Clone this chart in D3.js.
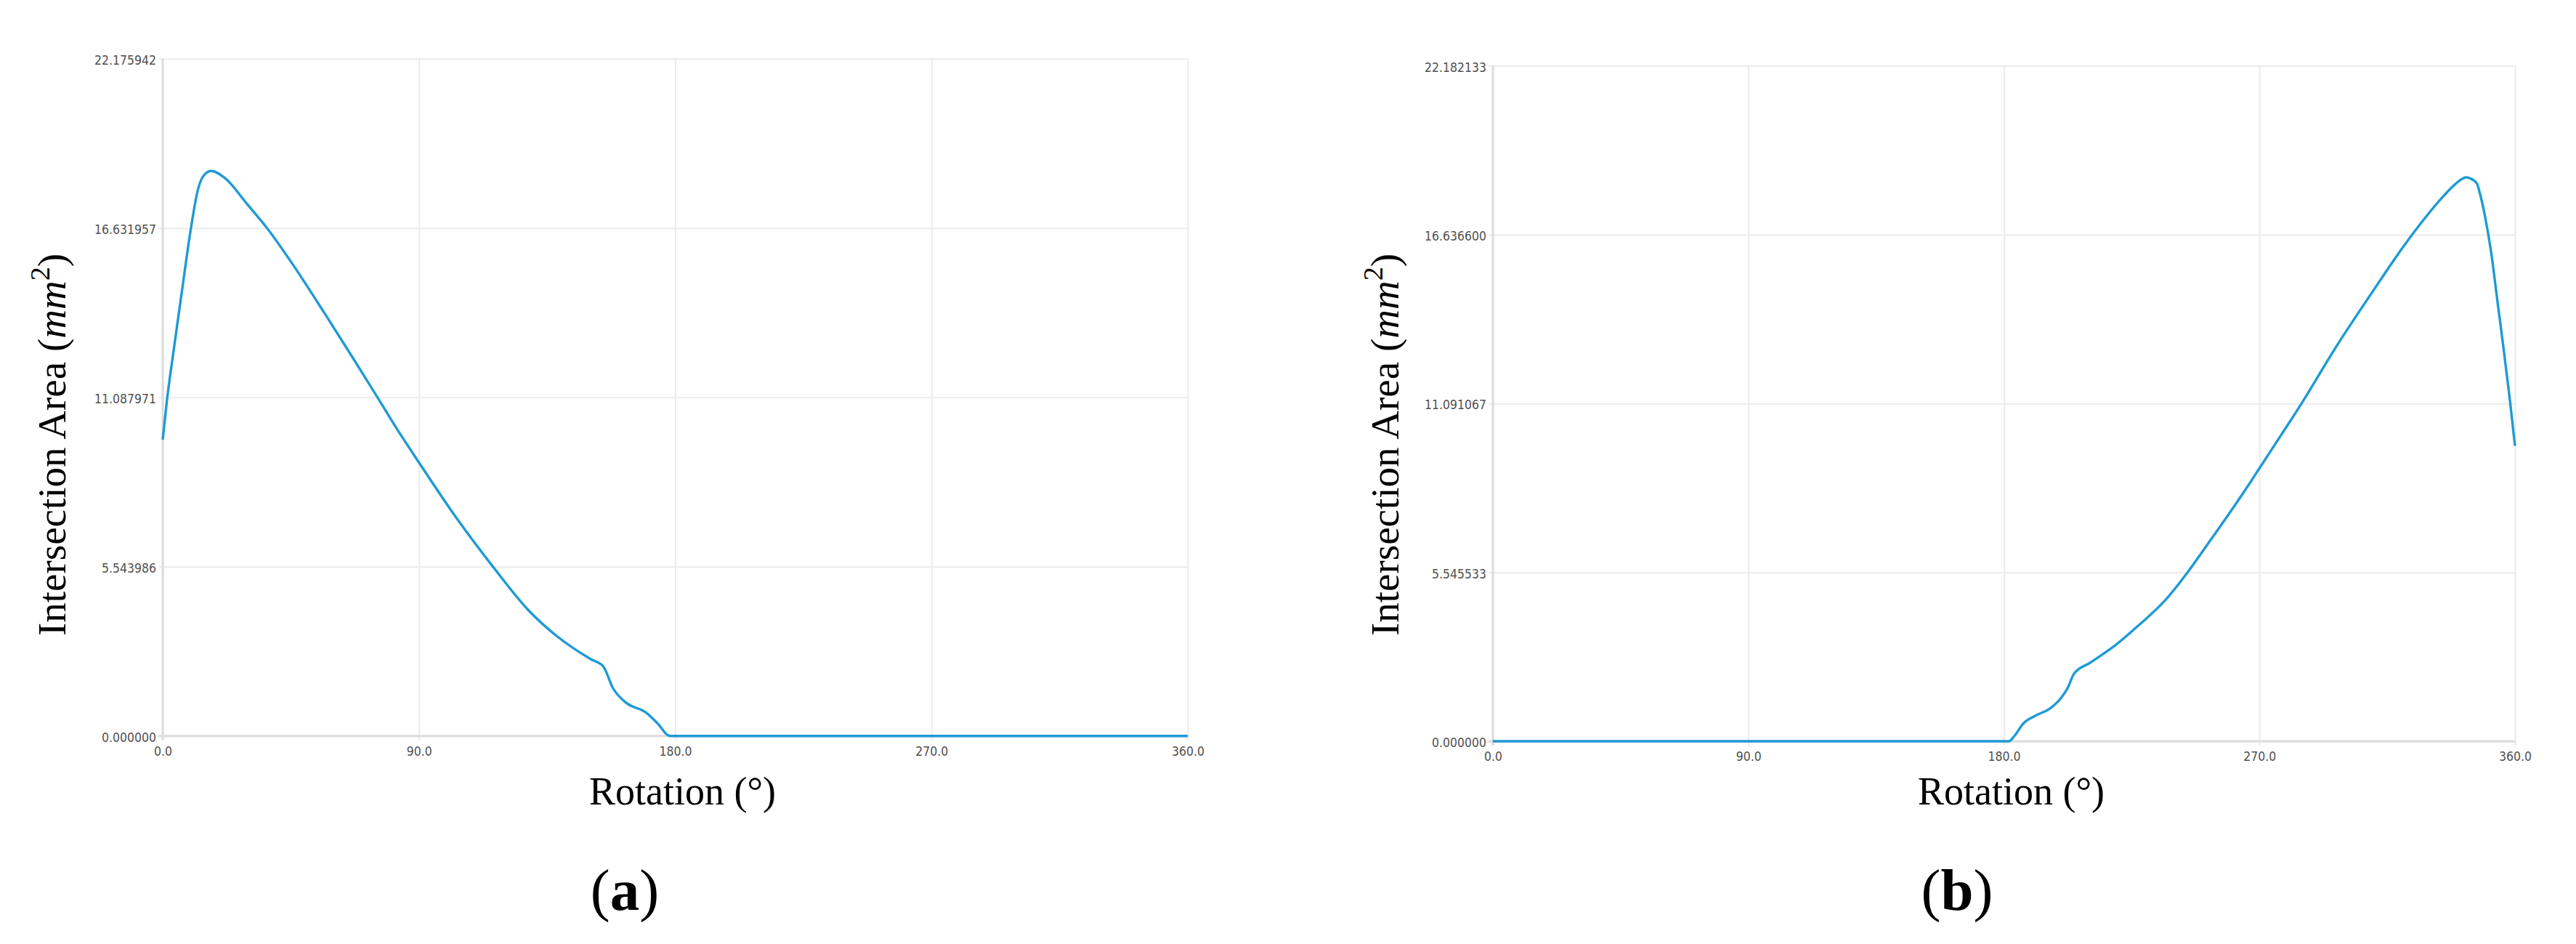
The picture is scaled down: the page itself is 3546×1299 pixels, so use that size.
<!DOCTYPE html>
<html>
<head>
<meta charset="utf-8">
<script src="https://cdn.jsdelivr.net/npm/d3@7/dist/d3.min.js"></script>
<style>
  body { margin: 0; background: #fff; }
  .tick text { font-family: "DejaVu Sans Condensed", "DejaVu Sans", sans-serif; font-stretch: condensed; font-size: 17.5px; fill: #505050; }
  .title { font-family: "Liberation Serif", "Times New Roman", serif; fill: #000; }
</style>
</head>
<body>
<svg id="canvas_svg" width="3546" height="1299"></svg>
<script>
// rotation in degrees, intersection area in mm^2
var rotationA = [0, 1.5, 3.8, 6.8, 9.7, 12.4, 14.4, 17.0, 21.8, 29.5, 36.7, 45.6, 56.7, 66.9, 75.4, 82.2,
                 90.3, 102.3, 116.0, 128.5, 138.8, 150.2, 154.7, 158.1, 162.7, 169.5, 174.1, 177.5, 178.5, 270, 360];
var areaA = [9.70, 11.00, 12.60, 14.60, 16.50, 17.90, 18.35, 18.50, 18.27, 17.43, 16.62, 15.45, 13.86, 12.36, 11.09, 10.06,
             8.91, 7.25, 5.54, 4.11, 3.24, 2.52, 2.28, 1.57, 1.09, 0.78, 0.38, 0.02, 0, 0, 0];

var rotationB = [0, 90, 181.8, 183.5, 186.9, 190.9, 196.6, 200.1, 202.4, 204.7, 210.4, 219.5, 227.5, 236.7, 244.7, 251.5,
                 259.5, 266.9, 270.1, 277.8, 284.8, 296.5, 308.3, 323.0, 334.7, 338.9, 342.8, 344.0, 346.5, 347.7, 349.4, 351.6,
                 353.8, 356.0, 358.2, 360];
var areaB = [0, 0, 0, 0.15, 0.59, 0.83, 1.10, 1.42, 1.74, 2.22, 2.58, 3.17, 3.81, 4.62, 5.55, 6.44,
             7.50, 8.52, 8.98, 10.08, 11.09, 12.88, 14.55, 16.54, 17.89, 18.29, 18.52, 18.49, 18.33, 17.97, 17.26, 16.06,
             14.47, 12.88, 11.21, 9.70];

var yTicksA = [0, 5.543986, 11.087971, 16.631957, 22.175942];
var yTicksB = [0, 5.545533, 11.091067, 16.636600, 22.182133];
var xTicks = [0, 90, 180, 270, 360];
var labels = ["a", "b"];

var svg = d3.select("#canvas_svg");

var panels = [
  { left: 224, right: 1635, top: 80.7, bottom: 1012.7, yTitleX: 90, rot: rotationA, area: areaA, yTicks: yTicksA, label: labels[0], labelX: 860 },
  { left: 2055, right: 3462, top: 90.5, bottom: 1020, yTitleX: 1925, rot: rotationB, area: areaB, yTicks: yTicksB, label: labels[1], labelX: 2694 }
];

function drawPanel(p) {
  var x = d3.scaleLinear().domain([0, 360]).range([p.left, p.right]);
  var y = d3.scaleLinear().domain([0, p.yTicks[p.yTicks.length - 1]]).range([p.bottom, p.top]);

  // horizontal grid + y labels
  var gy = svg.append("g")
      .attr("transform", "translate(" + p.left + ",0)")
      .call(d3.axisLeft(y).tickValues(p.yTicks).tickFormat(d3.format(".6f"))
            .tickSize(-(p.right - p.left)).tickPadding(9));
  gy.select(".domain").remove();
  gy.selectAll(".tick line").attr("x1", -6).attr("stroke", "#ebebeb").attr("stroke-width", 2);
  gy.selectAll(".tick text").attr("dy", "0.43em");

  // vertical grid + x labels
  var gx = svg.append("g")
      .attr("transform", "translate(0," + p.bottom + ")")
      .call(d3.axisBottom(x).tickValues(xTicks).tickFormat(d3.format(".1f"))
            .tickSize(-(p.bottom - p.top)).tickPadding(14.6));
  gx.select(".domain").remove();
  gx.selectAll(".tick line").attr("y1", 6).attr("stroke", "#ebebeb").attr("stroke-width", 2);
  gx.attr("font-family", null).attr("font-size", null);
  gy.attr("font-family", null).attr("font-size", null);

  // axis lines
  svg.append("line").attr("x1", p.left).attr("x2", p.left).attr("y1", p.top).attr("y2", p.bottom + 6)
     .attr("stroke", "#dcdcdc").attr("stroke-width", 3);
  svg.append("line").attr("x1", p.left - 6).attr("x2", p.right).attr("y1", p.bottom).attr("y2", p.bottom)
     .attr("stroke", "#dcdcdc").attr("stroke-width", 3);

  var line = d3.line()
      .x(function(d) { return x(d[0]); })
      .y(function(d) { return y(d[1]); })
      .curve(d3.curveMonotoneX);

  svg.append("path")
     .datum(d3.zip(p.rot, p.area))
     .attr("d", line)
     .attr("fill", "none")
     .attr("stroke", "#1e9ad6")
     .attr("stroke-width", 3.4)
     .attr("stroke-linejoin", "round");

  // y title
  var yt = svg.append("text").attr("class", "title")
      .attr("transform", "translate(" + p.yTitleX + ",612) rotate(-90)")
      .attr("text-anchor", "middle")
      .attr("font-size", 55);
  yt.append("tspan").text("Intersection Area (");
  yt.append("tspan").attr("font-style", "italic").text("mm");
  yt.append("tspan").attr("font-size", 38).attr("dy", -22).text("2");
  yt.append("tspan").attr("dy", 22).text(")");

  // x title
  svg.append("text").attr("class", "title")
     .attr("x", (p.left + p.right) / 2 + 10).attr("y", 1107)
     .attr("text-anchor", "middle").attr("font-size", 54)
     .text("Rotation (°)");

  // panel label
  var lb = svg.append("text").attr("class", "title")
      .attr("x", p.labelX).attr("y", 1252)
      .attr("text-anchor", "middle").attr("font-size", 81);
  lb.append("tspan").text("(");
  lb.append("tspan").attr("font-weight", "bold").text(p.label);
  lb.append("tspan").text(")");
}

panels.forEach(drawPanel);
</script>
</body>
</html>
